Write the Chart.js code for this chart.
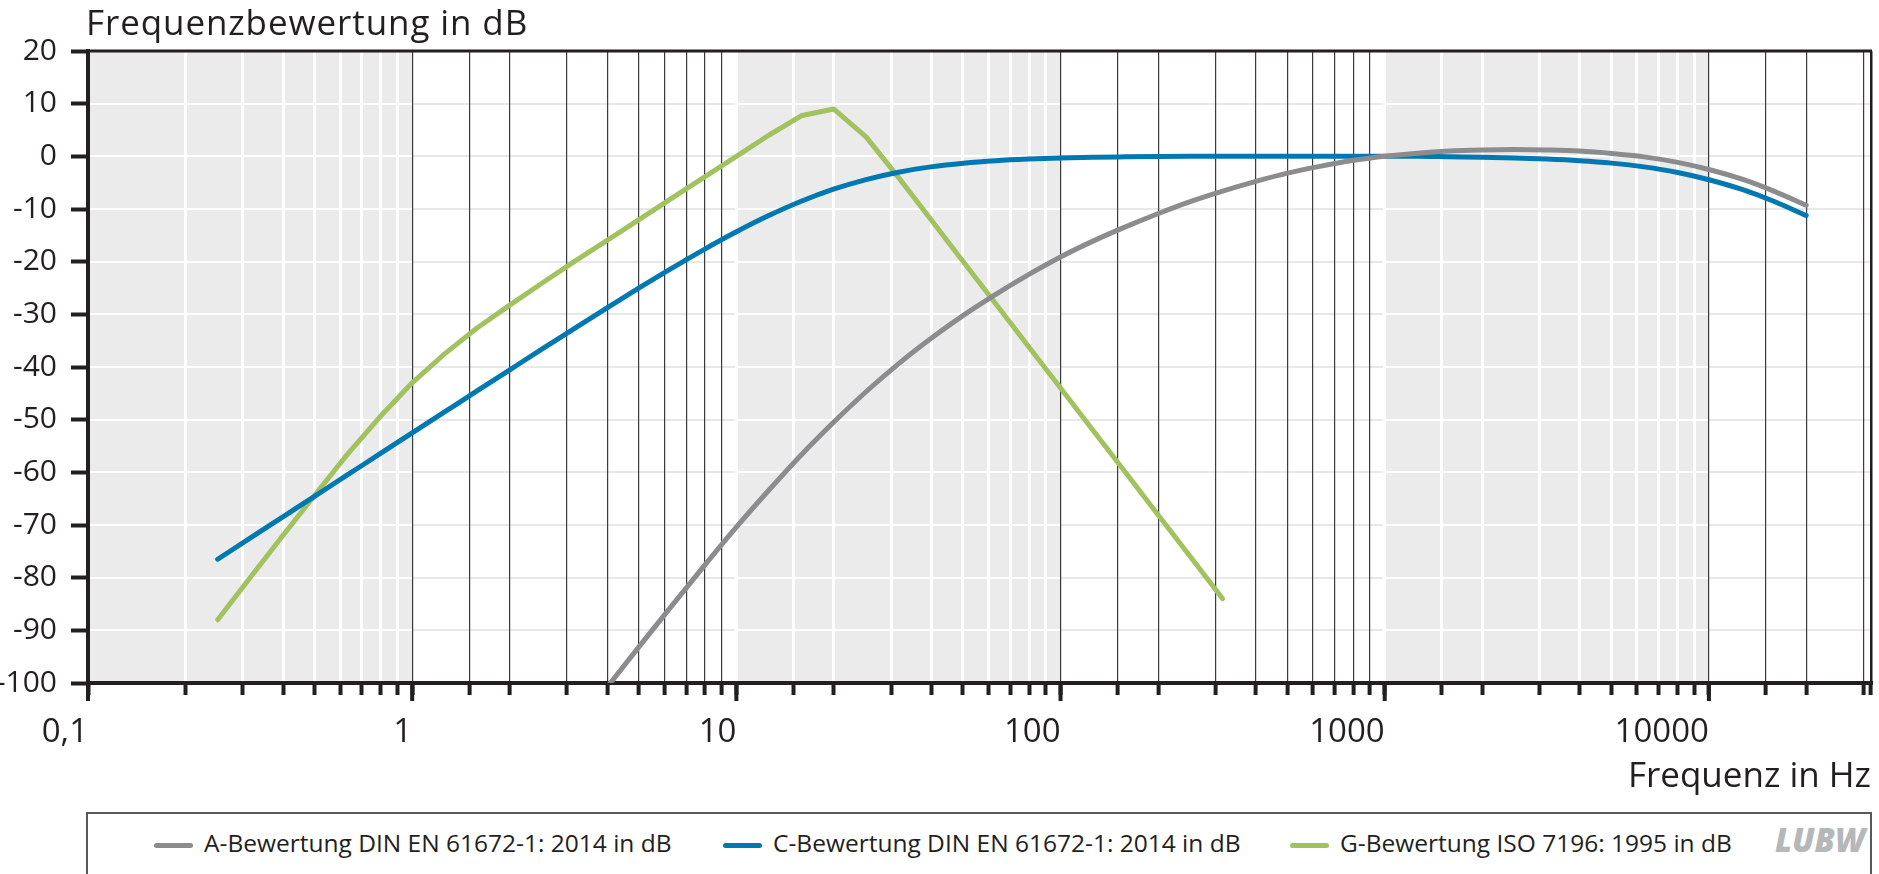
<!DOCTYPE html>
<html lang="de">
<head>
<meta charset="utf-8">
<title>Frequenzbewertung</title>
<script src="https://cdn.jsdelivr.net/npm/chart.js@4.4.1/dist/chart.umd.min.js"></script>
<style>
    html, body { margin: 0; padding: 0; background: #fff; }
    body { width: 1879px; height: 874px; overflow: hidden; position: relative; font-family: 'Open Sans', sans-serif; color: #231f20; }
    #chart { position: absolute; left: 0; top: 0; }
    #title { position: absolute; left: 86px; top: 4px; font-size: 35px; line-height: 35px; letter-spacing: 0.9px; white-space: nowrap; }
    #legend { position: absolute; left: 86px; top: 812px; width: 1782px; height: 100px; border: 2px solid #58595b; }
    .dash { position: absolute; width: 39px; height: 5px; border-radius: 3px; top: 29px; }
    .label { position: absolute; top: 16px; font-size: 24.5px; line-height: 25px; white-space: nowrap; }
    #logo { position: absolute; left: 1687px; top: 9px; font-size: 33px; line-height: 33px; font-weight: 800; font-style: italic; color: #b5b7b9; white-space: nowrap; transform-origin: 0 0; }
</style>
</head>
<body>
<canvas id="chart" width="1879" height="806"></canvas>
<div id="title">Frequenzbewertung in dB</div>
<div id="legend"><div id="logo">LUBW</div></div>

<script>
// Terzmittenfrequenzen in Hz (Basis-10-Werte, 0,25 Hz bis 20 kHz)
const thirdOctaveHz = [
    0.2512, 0.3162, 0.3981, 0.5012, 0.6310, 0.7943, 1, 1.2589, 1.5849, 1.9953,
    2.5119, 3.1623, 3.9811, 5.0119, 6.3096, 7.9433, 10, 12.589, 15.849, 19.953,
    25.119, 31.623, 39.811, 50.119, 63.096, 79.433, 100, 125.89, 158.49, 199.53,
    251.19, 316.23, 398.11, 501.19, 630.96, 794.33, 1000, 1258.9, 1584.9, 1995.3,
    2511.9, 3162.3, 3981.1, 5011.9, 6309.6, 7943.3, 10000, 12589, 15849, 19953
];

// A-Bewertung ab 3,15 Hz (Kurve beginnt unterhalb -100 dB)
const aHz = thirdOctaveHz.slice(11);
const aWeighting = [
    -108.8, -100.9, -93.1, -85.4, -77.8, -70.4, -63.4, -56.7, -50.5, -44.7, -39.4,
    -34.6, -30.2, -26.2, -22.5, -19.1, -16.1, -13.4, -10.9, -8.6, -6.6, -4.8, -3.2,
    -1.9, -0.8, 0, 0.6, 1.0, 1.2, 1.3, 1.2, 1.0, 0.55, -0.1, -1.1, -2.5, -4.3, -6.6, -9.3
];

// C-Bewertung 0,25 Hz bis 20 kHz
const cHz = thirdOctaveHz;
const cWeighting = [
    -76.5, -72.5, -68.5, -64.5, -60.5, -56.51, -52.51, -48.53, -44.55, -40.58,
    -36.62, -32.7, -28.81, -24.99, -21.27, -17.7, -14.33, -11.25, -8.53, -6.24,
    -4.41, -3.01, -2.0, -1.3, -0.82, -0.51, -0.3, -0.17, -0.09, -0.03,
    0, 0, 0, 0, 0, 0, 0, 0, -0.09, -0.17,
    -0.3, -0.51, -0.82, -1.29, -2.0, -3.01, -4.44, -6.24, -8.53, -11.25
];

// G-Bewertung 0,25 Hz bis 315 Hz
const gHz = thirdOctaveHz.slice(0, 32);
const gWeighting = [
    -88, -80, -72.1, -64.3, -56.6, -49.5, -43, -37.5, -32.6, -28.3, -24.1, -20,
    -16, -12, -8, -4, 0, 4, 7.7, 9, 3.7, -4, -12, -20, -28, -36, -44, -52,
    -60, -68, -76, -84
];

const seriesLabels = [
    'A-Bewertung DIN EN 61672-1: 2014 in dB',
    'C-Bewertung DIN EN 61672-1: 2014 in dB',
    'G-Bewertung ISO 7196: 1995 in dB'
];
const seriesColors = ['#8c8c8e', '#0079b3', '#a2c25f'];

// Achsen
const xMin = 0.1, xMax = 31623;
const yMin = -100, yMax = 20, yStep = 10;
const decadeLabels = { 0.1: '0,1', 1: '1', 10: '10', 100: '100', 1000: '1000', 10000: '10000' };
const decades = [0.1, 1, 10, 100, 1000, 10000];
const shadedDecades = [[0.1, 1], [10, 100], [1000, 10000]];

const INK = '#231f20';

function pairs(xs, ys) {
    return xs.map((x, i) => ({ x: x, y: ys[i] }));
}

function isDecade(v) {
    const l = Math.log10(v);
    return Math.abs(l - Math.round(l)) < 1e-6;
}

function inShaded(v) {
    return shadedDecades.some(([lo, hi]) => v >= lo * 0.9999 && v < hi * 0.9999);
}

// Hintergrund: graue Dekaden + waagrechte Linien
const backgroundPlugin = {
    id: 'decadeBackground',
    beforeDraw(chart) {
        const { ctx, chartArea: a, scales: { x, y } } = chart;
        ctx.save();
        ctx.fillStyle = '#ebebeb';
        shadedDecades.forEach(([lo, hi]) => {
            const x0 = x.getPixelForValue(lo);
            const x1 = x.getPixelForValue(hi);
            ctx.fillRect(x0, a.top, x1 - x0, a.bottom - a.top);
        });
        y.ticks.forEach(t => {
            const py = Math.round(y.getPixelForValue(t.value));
            ctx.fillStyle = '#e8e8e8';
            ctx.fillRect(a.left, py - 1, a.right - a.left, 2);
            ctx.fillStyle = '#ffffff';
            shadedDecades.forEach(([lo, hi]) => {
                const x0 = x.getPixelForValue(lo);
                const x1 = x.getPixelForValue(hi);
                ctx.fillRect(x0, py - 1, x1 - x0, 2);
            });
        });
        ctx.restore();
    },
    afterDraw(chart) {
        const { ctx, chartArea: a, scales: { x } } = chart;
        ctx.save();
        ctx.fillStyle = INK;
        ctx.fillRect(a.left, a.top - 1.5, a.right - a.left + 1, 3);
        ctx.fillRect(a.right - 1, a.top, 2.5, a.bottom - a.top);
        // lange Striche an den Dekaden
        decades.forEach(v => {
            const px = x.getPixelForValue(v);
            ctx.fillRect(px - 2, a.bottom, 4, 18);
        });
        ctx.restore();
    }
};

Chart.defaults.font.family = "'Open Sans', sans-serif";
Chart.defaults.color = INK;

const chart = new Chart(document.getElementById('chart'), {
    type: 'line',
    data: {
        datasets: [
            { label: seriesLabels[0], data: pairs(aHz, aWeighting), borderColor: seriesColors[0] },
            { label: seriesLabels[1], data: pairs(cHz, cWeighting), borderColor: seriesColors[1] },
            { label: seriesLabels[2], data: pairs(gHz, gWeighting), borderColor: seriesColors[2], tension: 0, cubicInterpolationMode: 'default' }
        ].map(d => Object.assign({
            borderWidth: 5,
            pointRadius: 0,
            fill: false,
            clip: 0,
            cubicInterpolationMode: 'monotone',
            borderCapStyle: 'round',
            borderJoinStyle: 'round'
        }, d))
    },
    options: {
        responsive: false,
        animation: false,
        layout: { padding: { top: 51, right: 8, left: 0, bottom: 0 } },
        plugins: {
            legend: { display: false },
            tooltip: { enabled: false },
            title: { display: false }
        },
        scales: {
            x: {
                type: 'logarithmic',
                position: 'bottom',
                min: xMin,
                max: xMax,
                afterFit(s) { s.height = 123; s.paddingLeft = 0; s.paddingRight = 0; },
                border: { display: true, width: 4, color: INK },
                grid: {
                    drawOnChartArea: true,
                    drawTicks: true,
                    tickLength: 12,
                    tickWidth: 4,
                    tickColor: INK,
                    color: c => inShaded(c.tick.value) ? '#ffffff' : '#3a3a3c',
                    lineWidth: c => inShaded(c.tick.value) ? 3 : 1.2
                },
                ticks: {
                    autoSkip: false,
                    maxRotation: 0,
                    align: 'end',
                    padding: 18,
                    font: { size: 33 },
                    color: INK,
                    callback: v => isDecade(v) ? (decadeLabels[Math.pow(10, Math.round(Math.log10(v)))] || '') : ''
                },
                title: {
                    display: true,
                    text: 'Frequenz in Hz',
                    align: 'end',
                    color: INK,
                    font: { size: 35, lineHeight: 1.2 },
                    padding: { top: 0, bottom: 8 }
                }
            },
            y: {
                type: 'linear',
                min: yMin,
                max: yMax,
                afterFit(s) { s.width = 88; },
                border: { display: true, width: 4, color: INK },
                grid: {
                    drawOnChartArea: false,
                    drawTicks: true,
                    tickLength: 17,
                    tickWidth: 4,
                    tickColor: INK
                },
                ticks: {
                    stepSize: yStep,
                    padding: 14,
                    font: { size: 30 },
                    color: INK
                }
            }
        }
    },
    plugins: [backgroundPlugin]
});

// Legende
const legend = document.getElementById('legend');
const legendLeft = [66, 635, 1202];
chart.data.datasets.forEach((ds, i) => {
    const dash = document.createElement('div');
    dash.className = 'dash';
    dash.style.left = legendLeft[i] + 'px';
    dash.style.background = ds.borderColor;
    legend.appendChild(dash);
    const label = document.createElement('div');
    label.className = 'label';
    label.style.left = (legendLeft[i] + 50) + 'px';
    label.textContent = ds.label;
    legend.appendChild(label);
});

// Logo auf ca. 90 px Breite bringen
const logo = document.getElementById('logo');
const logoWidth = logo.getBoundingClientRect().width;
logo.style.transform = 'scaleX(' + (90 / logoWidth).toFixed(3) + ')';
</script>
</body>
</html>
